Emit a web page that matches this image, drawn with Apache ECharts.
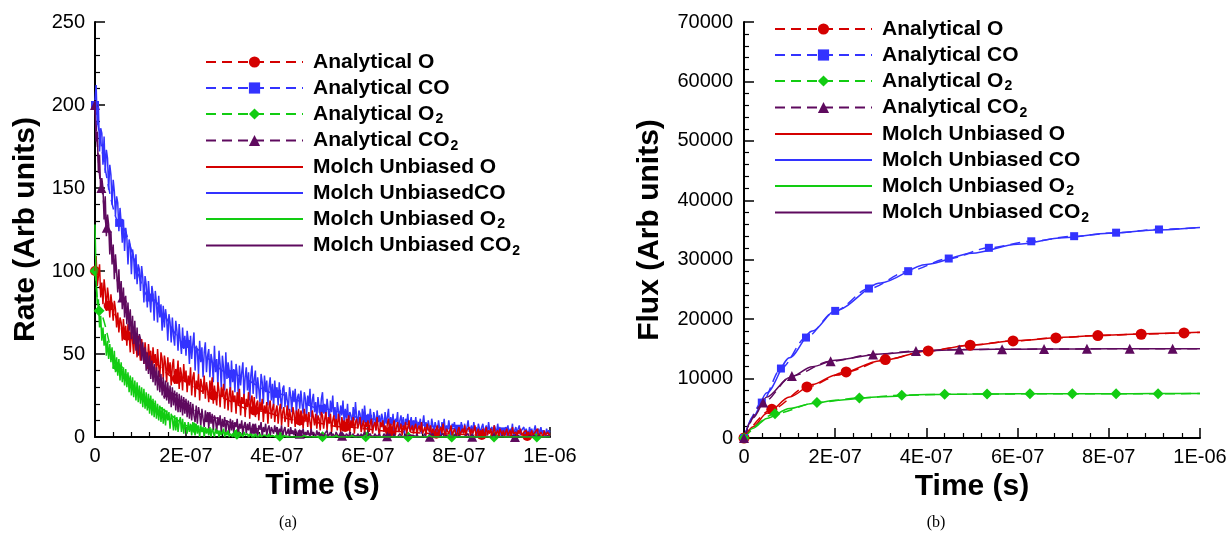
<!DOCTYPE html>
<html>
<head>
<meta charset="utf-8">
<script src="https://cdn.jsdelivr.net/npm/echarts@6/dist/echarts.min.js"></script>
<style>
  html, body { margin: 0; padding: 0; background: #fff; }
  .panel { position: absolute; top: 0; width: 615px; height: 535px; }
  #rateChart { left: 0; }
  #fluxChart { left: 615px; }
</style>
</head>
<body>
<div id="rateChart" class="panel"></div>
<div id="fluxChart" class="panel"></div>
<script>
// x axis is in microseconds, labels written as in the original
const timeTickLabels = ['0', '2E-07', '4E-07', '6E-07', '8E-07', '1E-06']
const rateTickLabels = ['0', '50', '100', '150', '200', '250']
const fluxTickLabels = ['0', '10000', '20000', '30000', '40000', '50000', '60000', '70000']

// ---- panel (a): rate, Monte Carlo samples every 0.0025 us (20 per row) ----
const rateStep = 0.0025
const rateCO = [
  203, 212, 188, 199, 172, 186, 183, 164, 181, 159, 173, 168, 149, 164, 158, 140, 155, 148, 133, 145,
  141, 124, 138, 129, 117, 131, 112, 126, 120, 104, 119, 115, 98, 113, 108, 95, 110, 92, 104, 101,
  88, 103, 96, 81, 97, 92, 78, 94, 84, 75, 91, 86, 70, 88, 81, 69, 85, 72, 80, 64,
  79, 66, 77, 71, 58, 74, 69, 57, 72, 61, 55, 70, 64, 52, 68, 58, 50, 66, 53, 61,
  49, 64, 58, 44, 61, 47, 56, 63, 40, 55, 52, 38, 58, 45, 54, 36, 51, 57, 39, 49,
  53, 36, 50, 46, 33, 55, 39, 47, 31, 52, 44, 30, 49, 42, 28, 51, 35, 45, 40, 27,
  46, 33, 41, 27, 44, 38, 25, 43, 31, 39, 45, 24, 36, 42, 28, 39, 22, 37, 43, 26,
  35, 40, 23, 36, 29, 21, 38, 33, 20, 37, 27, 34, 19, 30, 36, 22, 32, 18, 34, 25,
  30, 19, 33, 24, 17, 29, 31, 18, 27, 22, 16, 30, 25, 15, 28, 21, 29, 14, 24, 26,
  17, 28, 20, 14, 27, 23, 13, 25, 19, 29, 12, 22, 26, 15, 21, 11, 24, 18, 13, 23,
  27, 14, 20, 11, 23, 17, 9, 22, 15, 25, 12, 18, 8, 21, 16, 10, 19, 13, 22, 9,
  17, 11, 20, 8, 15, 13, 6, 18, 10, 21, 12, 7, 16, 14, 5, 17, 9, 19, 11, 6,
  14, 8, 17, 10, 5, 15, 12, 4, 16, 9, 13, 6, 14, 11, 3, 15, 8, 12, 17, 5,
  12, 7, 14, 4, 11, 9, 15, 3, 10, 13, 6, 12, 2, 11, 8, 14, 5, 9, 12, 4,
  10, 6, 12, 3, 9, 7, 11, 2, 8, 13, 5, 9, 4, 10, 6, 2, 11, 7, 3, 9,
  8, 3, 10, 5, 1, 9, 6, 11, 2, 7, 4, 10, 5, 1, 8, 6, 9, 2, 7, 4,
  7, 2, 9, 5, 3, 8, 1, 6, 10, 3, 5, 7, 2, 9, 4, 6, 1, 8, 5, 3,
  6, 8, 2, 5, 7, 1, 9, 4, 3, 6, 0, 7, 5, 2, 8, 3, 6, 1, 5, 4,
  2, 6, 4, 7, 1, 5, 3, 8, 0, 4, 6, 2, 5, 7, 1, 4, 3, 6, 2, 5,
  4, 1, 6, 3, 5, 0, 4, 7, 2, 3, 5, 1, 6, 2, 4, 3, 0, 5, 2, 4,
  3
]
const rateO = [
  100, 109, 91, 97, 104, 84, 93, 80, 95, 88, 76, 90, 84, 72, 86, 79, 70, 82, 77, 66,
  75, 63, 72, 69, 58, 71, 60, 67, 55, 68, 62, 51, 66, 58, 50, 63, 57, 48, 61, 52,
  46, 59, 53, 44, 57, 49, 41, 56, 47, 52, 40, 54, 45, 50, 38, 53, 43, 36, 51, 47,
  35, 49, 44, 33, 48, 38, 45, 31, 43, 47, 32, 41, 36, 46, 29, 42, 38, 28, 44, 33,
  40, 27, 37, 31, 42, 25, 36, 39, 24, 34, 29, 38, 22, 35, 31, 26, 37, 23, 33, 28,
  21, 34, 27, 36, 20, 31, 25, 19, 33, 28, 18, 30, 24, 32, 17, 27, 29, 16, 26, 30,
  15, 28, 21, 25, 14, 27, 19, 29, 13, 24, 20, 26, 12, 23, 18, 27, 11, 22, 25, 14,
  24, 12, 20, 22, 10, 21, 16, 23, 9, 19, 14, 21, 8, 18, 22, 11, 17, 20, 9, 16,
  19, 8, 16, 20, 7, 15, 18, 9, 13, 19, 6, 17, 12, 8, 18, 14, 6, 16, 11, 17,
  7, 16, 13, 5, 17, 10, 14, 6, 15, 9, 4, 16, 12, 7, 14, 5, 13, 11, 4, 15,
  13, 5, 11, 15, 4, 12, 8, 14, 3, 10, 13, 6, 11, 4, 14, 9, 3, 12, 7, 10,
  4, 11, 8, 13, 3, 10, 6, 12, 2, 9, 11, 5, 8, 12, 3, 7, 10, 2, 9, 6,
  10, 3, 8, 11, 2, 7, 9, 4, 12, 5, 1, 9, 6, 10, 3, 7, 2, 8, 11, 4,
  8, 2, 7, 10, 1, 6, 9, 3, 5, 8, 1, 7, 4, 9, 2, 6, 10, 3, 5, 7,
  2, 6, 8, 1, 5, 7, 3, 9, 2, 4, 6, 1, 8, 5, 3, 7, 0, 5, 6, 2,
  5, 7, 1, 4, 6, 2, 8, 3, 0, 5, 6, 2, 4, 7, 1, 3, 5, 6, 0, 4,
  6, 1, 3, 5, 2, 7, 0, 4, 3, 6, 1, 5, 2, 4, 7, 0, 3, 5, 1, 4,
  2, 5, 0, 3, 6, 1, 4, 2, 5, 0, 3, 7, 1, 2, 4, 0, 5, 3, 1, 4,
  0, 3, 5, 1, 2, 4, 0, 6, 2, 1, 3, 0, 4, 2, 5, 1, 0, 3, 2, 4,
  1, 3, 0, 2, 4, 1, 0, 3, 2, 5, 0, 1, 3, 2, 0, 4, 1, 2, 3, 1,
  2
]
const rateCO2 = [
  200, 178, 184, 159, 170, 147, 156, 150, 131, 145, 121, 134, 128, 110, 124, 104, 116, 95, 110, 100,
  87, 101, 83, 94, 77, 90, 72, 85, 68, 81, 64, 77, 59, 73, 56, 70, 52, 66, 49, 62,
  59, 46, 57, 44, 54, 40, 51, 38, 49, 35, 46, 33, 44, 31, 42, 28, 40, 27, 38, 25,
  36, 23, 34, 22, 33, 20, 31, 18, 30, 19, 28, 16, 27, 15, 26, 15, 25, 13, 24, 14,
  23, 12, 22, 11, 21, 10, 20, 13, 9, 19, 8, 18, 14, 7, 17, 11, 6, 16, 9, 15,
  5, 15, 8, 14, 4, 13, 10, 3, 12, 7, 13, 3, 11, 6, 12, 2, 10, 8, 2, 11,
  4, 10, 2, 9, 6, 11, 1, 8, 5, 10, 1, 7, 9, 2, 8, 4, 9, 1, 6, 8,
  2, 8, 4, 1, 7, 5, 9, 0, 6, 3, 8, 1, 5, 7, 0, 6, 4, 2, 7, 3,
  6, 1, 5, 3, 7, 0, 4, 6, 1, 3, 5, 0, 6, 2, 4, 1, 5, 3, 0, 4,
  1, 4, 2, 5, 0, 3, 1, 4, 2, 0, 5, 1, 3, 2, 0, 4, 1, 3, 0, 2,
  3, 0, 2, 1, 4, 0, 1, 3, 0, 2, 1, 0, 3, 2, 0, 1, 3, 0, 2, 1,
  0, 2, 1, 0, 3, 0, 1, 2, 0, 1, 0, 2, 1, 0, 2, 0, 1, 3, 0, 1,
  1, 0, 2, 0, 1, 0, 2, 1, 0, 0, 2, 0, 1, 0, 2, 1, 0, 1, 0, 2,
  0, 1, 0, 2, 0, 1, 0, 0, 2, 1, 0, 1, 0, 2, 0, 0, 1, 0, 1, 0,
  1, 0, 0, 2, 0, 1, 0, 1, 0, 0, 2, 0, 1, 0, 0, 1, 0, 2, 0, 1,
  0, 1, 0, 0, 1, 0, 2, 0, 0, 1, 0, 0, 1, 0, 1, 0, 0, 2, 0, 0,
  1, 0, 0, 1, 0, 0, 1, 0, 2, 0, 0, 1, 0, 0, 1, 0, 0, 0, 1, 0,
  0, 0, 1, 0, 1, 0, 0, 0, 1, 0, 0, 2, 0, 0, 0, 1, 0, 0, 1, 0,
  0, 1, 0, 0, 0, 1, 0, 0, 1, 0, 0, 0, 1, 0, 0, 1, 0, 0, 0, 1,
  0, 0, 1, 0, 0, 0, 1, 0, 0, 0, 1, 0, 0, 0, 0, 1, 0, 0, 1, 0,
  0
]
const rateO2 = [
  128, 95, 80, 83, 66, 73, 58, 66, 55, 62, 49, 58, 47, 56, 45, 54, 41, 52, 39, 48,
  37, 47, 34, 45, 33, 42, 31, 41, 30, 39, 27, 37, 25, 36, 24, 34, 22, 33, 21, 31,
  20, 30, 18, 29, 17, 27, 16, 26, 14, 25, 13, 23, 12, 22, 11, 20, 10, 19, 9, 18,
  8, 17, 7, 16, 10, 15, 5, 14, 11, 4, 13, 4, 12, 3, 9, 12, 3, 11, 2, 9,
  10, 2, 9, 3, 8, 1, 9, 4, 1, 8, 2, 7, 0, 7, 3, 6, 0, 6, 2, 5,
  1, 6, 0, 5, 3, 0, 5, 2, 4, 0, 4, 1, 3, 5, 0, 3, 1, 4, 0, 2,
  3, 0, 2, 4, 0, 1, 3, 0, 2, 1, 0, 3, 1, 0, 2, 0, 1, 2, 0, 1,
  0, 2, 0, 1, 0, 2, 0, 0, 1, 0, 1, 0, 0, 2, 0, 0, 1, 0, 0, 1,
  0, 0, 1, 0, 0, 0, 1, 0, 0, 0, 0, 1, 0, 0, 0, 0, 0, 1, 0, 0,
  0, 0, 0, 0, 1, 0, 0, 0, 0, 0, 0, 0, 0, 1, 0, 0, 0, 0, 0, 0,
  0, 1, 0, 0, 0, 0, 0, 0, 0, 0, 0, 0, 1, 0, 0, 0, 0, 0, 0, 0,
  0, 0, 0, 0, 0, 0, 1, 0, 0, 0, 0, 0, 0, 0, 0, 0, 0, 0, 1, 0,
  0, 0, 0, 0, 0, 0, 0, 0, 0, 0, 0, 1, 0, 0, 0, 0, 0, 0, 0, 0,
  0, 0, 0, 1, 0, 0, 0, 0, 0, 0, 0, 0, 0, 0, 0, 0, 0, 0, 0, 0,
  0, 0, 0, 0, 0, 0, 0, 0, 0, 0, 0, 0, 0, 0, 1, 0, 0, 0, 0, 0,
  0, 0, 0, 0, 0, 0, 0, 0, 0, 0, 0, 0, 0, 0, 0, 0, 0, 0, 0, 0,
  0, 0, 0, 0, 0, 0, 0, 1, 0, 0, 0, 0, 0, 0, 0, 0, 0, 0, 0, 0,
  0, 0, 0, 0, 0, 0, 0, 0, 0, 0, 0, 0, 0, 0, 0, 0, 0, 0, 0, 0,
  0, 0, 0, 0, 0, 0, 0, 0, 0, 0, 0, 0, 0, 0, 0, 0, 0, 0, 0, 0,
  0, 0, 0, 0, 0, 0, 0, 0, 0, 0, 0, 0, 0, 0, 0, 0, 0, 0, 0, 0,
  0
]

// analytical rate curves (marker positions), last point has no marker
const anaRateTimeO = [0, 0.03, 0.07, 0.12, 0.18, 0.26, 0.35, 0.45, 0.55, 0.65, 0.75, 0.85, 0.95, 1.0]
const anaRateO = [100, 79, 61, 46, 35, 25, 16, 10, 6, 3.5, 2, 1.2, 0.6, 0.5]
const anaRateTimeCO = [0, 0.053, 0.12, 0.2, 0.3, 0.4, 0.5, 0.6, 0.7, 0.8, 0.9, 1.0]
const anaRateCO = [200, 129, 84, 56, 38, 26, 17, 11, 7.5, 5, 3.4, 2.3]
const anaRateTimeO2 = [0, 0.009, 0.05, 0.12, 0.218, 0.312, 0.406, 0.5, 0.595, 0.688, 0.784, 0.877, 0.971, 1.0]
const anaRateO2 = [100, 76, 42, 20, 5.5, 1.6, 0.5, 0.2, 0.1, 0, 0, 0, 0, 0]
const anaRateTimeCO2 = [0, 0.014, 0.026, 0.06, 0.1, 0.16, 0.25, 0.35, 0.45, 0.543, 0.642, 0.736, 0.829, 0.923, 1.0]
const anaRateCO2 = [200, 150, 126, 84, 54, 27, 12, 5, 2, 0.8, 0.4, 0.2, 0.1, 0, 0]

// ---- panel (b): flux ----
const anaFluxTimeO = [0, 0.061, 0.138, 0.224, 0.31, 0.404, 0.496, 0.59, 0.684, 0.776, 0.871, 0.965, 1.0]
const anaFluxO = [0, 4830, 8590, 11110, 13200, 14650, 15610, 16330, 16840, 17240, 17460, 17680, 17750]
const anaFluxTimeCO = [0, 0.039, 0.081, 0.136, 0.2, 0.274, 0.36, 0.449, 0.537, 0.63, 0.724, 0.816, 0.91, 1.0]
const anaFluxCO = [0, 5960, 11690, 16900, 21390, 25150, 28070, 30200, 32000, 33100, 33960, 34550, 35090, 35420]
const anaFluxTimeO2 = [0, 0.068, 0.16, 0.253, 0.346, 0.44, 0.533, 0.627, 0.72, 0.816, 0.908, 1.0]
const anaFluxO2 = [0, 4100, 5960, 6740, 7190, 7360, 7400, 7430, 7440, 7450, 7460, 7470]
const anaFluxTimeCO2 = [0, 0.042, 0.105, 0.19, 0.283, 0.377, 0.472, 0.566, 0.658, 0.752, 0.846, 0.94, 1.0]
const anaFluxCO2 = [0, 5960, 10440, 12910, 14040, 14650, 14880, 14940, 14960, 15000, 15000, 15000, 15000]

const molchFluxTime = [0, 0.02, 0.05, 0.1, 0.15, 0.2, 0.3, 0.4, 0.5, 0.6, 0.7, 0.8, 0.9, 1.0]
const molchFluxO = [0, 1900, 4150, 6900, 9000, 10550, 13000, 14600, 15650, 16400, 16950, 17350, 17600, 17780]
const molchFluxCO = [0, 3600, 7600, 13500, 18000, 21400, 26100, 29200, 31100, 32600, 33700, 34450, 35000, 35420]
const molchFluxO2 = [0, 1650, 3300, 4950, 5800, 6350, 6950, 7300, 7400, 7430, 7450, 7460, 7470, 7480]
const molchFluxCO2 = [0, 3400, 6900, 10200, 12000, 13100, 14150, 14700, 14900, 14950, 14980, 15000, 15000, 15000]

const RED = '#d40000'
const BLUE = '#3333ff'
const GREEN = '#12cc12'
const PURPLE = '#5e0a5e'
const FONT = 'Liberation Sans, Arial, Helvetica, sans-serif'

const pairs = (ts, vs) => ts.map((t, i) => [t, vs[i]])
const sampled = vs => vs.map((v, i) => [i * rateStep, v])
// markers on every point except the closing one at the axis end
const marked = (ts, vs) => ts.map((t, i) =>
  i === ts.length - 1 ? { value: [t, vs[i]], symbol: 'none' } : [t, vs[i]])

const analytical = (name, color, symbol, size, data, z) => ({
  name, type: 'line', data, z,
  symbol, symbolSize: size, showAllSymbol: true,
  smooth: 0.3, smoothMonotone: 'x',
  itemStyle: { color },
  lineStyle: { color, width: 1.5, type: [10, 6] },
  emphasis: { disabled: true }
})
const molch = (name, color, data, width, smooth) => ({
  name, type: 'line', data, symbol: 'none', z: 2,
  smooth: smooth ? 0.3 : false, smoothMonotone: 'x',
  itemStyle: { color },
  lineStyle: { color, width },
  emphasis: { disabled: true }
})

// subscript "2" in legend names
const legendFormatter = name => name.endsWith('2') ? name.slice(0, -1) + '{s|2}' : name

const legendFor = (left, top, names) => ({
  orient: 'vertical', left, top,
  itemWidth: 97, itemHeight: 14, itemGap: 2,
  selectedMode: false,
  formatter: legendFormatter,
  textStyle: {
    fontFamily: FONT, fontSize: 21, fontWeight: 'bold', color: '#000', lineHeight: 24,
    padding: [0, 0, 0, 5],
    rich: { s: { fontFamily: FONT, fontSize: 14, fontWeight: 'bold', color: '#000', padding: [11, 0, 0, 1] } }
  },
  data: names.map((n, i) => i < 4 ? n : { name: n, itemStyle: { opacity: 0 } })
})

const axisCommon = {
  type: 'value',
  axisLine: { show: true, onZero: false, lineStyle: { color: '#000', width: 2 } },
  axisTick: { show: true, inside: true, length: 10, lineStyle: { color: '#000', width: 1.5 } },
  minorTick: { show: true, splitNumber: 5, length: 5, lineStyle: { color: '#000', width: 1.2 } },
  splitLine: { show: false },
  nameLocation: 'middle',
  nameTextStyle: { fontFamily: FONT, fontSize: 30, fontWeight: 'bold', color: '#000' }
}

const timeAxis = {
  ...axisCommon,
  min: 0, max: 1, interval: 0.2,
  name: 'Time (s)', nameGap: 34,
  axisLabel: {
    fontFamily: FONT, fontSize: 20, color: '#000', margin: 9,
    formatter: v => timeTickLabels[Math.round(v / 0.2)]
  }
}

const rateChart = echarts.init(document.getElementById('rateChart'))
rateChart.setOption({
  animation: false,
  backgroundColor: '#fff',
  title: {
    text: '(a)', left: 283, top: 510, textAlign: 'center',
    textStyle: { fontFamily: 'Liberation Serif, Times New Roman, serif', fontSize: 16, fontWeight: 'normal', color: '#000' }
  },
  grid: { left: 95, top: 22, width: 455, height: 415 },
  legend: legendFor(200, 45, [
    'Analytical O', 'Analytical CO', 'Analytical O2', 'Analytical CO2',
    'Molch Unbiased O', 'Molch UnbiasedCO', 'Molch Unbiased O2', 'Molch Unbiased CO2'
  ]),
  xAxis: timeAxis,
  yAxis: {
    ...axisCommon,
    min: 0, max: 250, interval: 50,
    name: 'Rate (Arb units)', nameGap: 54,
    axisLabel: {
      fontFamily: FONT, fontSize: 20, color: '#000', margin: 10,
      formatter: v => rateTickLabels[Math.round(v / 50)]
    }
  },
  series: [
    analytical('Analytical O', RED, 'circle', 10, marked(anaRateTimeO, anaRateO), 1),
    analytical('Analytical CO', BLUE, 'rect', 8, marked(anaRateTimeCO, anaRateCO), 1),
    analytical('Analytical O2', GREEN, 'diamond', 11, marked(anaRateTimeO2, anaRateO2), 1),
    analytical('Analytical CO2', PURPLE, 'triangle', 10, marked(anaRateTimeCO2, anaRateCO2), 1),
    molch('Molch UnbiasedCO', BLUE, sampled(rateCO), 1.5, false),
    molch('Molch Unbiased O', RED, sampled(rateO), 1.5, false),
    molch('Molch Unbiased CO2', PURPLE, sampled(rateCO2), 1.5, false),
    molch('Molch Unbiased O2', GREEN, sampled(rateO2), 1.5, false)
  ]
})

const fluxChart = echarts.init(document.getElementById('fluxChart'))
fluxChart.setOption({
  animation: false,
  backgroundColor: '#fff',
  title: {
    text: '(b)', left: 316, top: 510, textAlign: 'center',
    textStyle: { fontFamily: 'Liberation Serif, Times New Roman, serif', fontSize: 16, fontWeight: 'normal', color: '#000' }
  },
  grid: { left: 129, top: 22, width: 456, height: 416 },
  legend: legendFor(154, 12, [
    'Analytical O', 'Analytical CO', 'Analytical O2', 'Analytical CO2',
    'Molch Unbiased O', 'Molch Unbiased CO', 'Molch Unbiased O2', 'Molch Unbiased CO2'
  ]),
  xAxis: timeAxis,
  yAxis: {
    ...axisCommon,
    min: 0, max: 70000, interval: 10000,
    name: 'Flux (Arb units)', nameGap: 79,
    axisLabel: {
      fontFamily: FONT, fontSize: 20, color: '#000', margin: 11,
      formatter: v => fluxTickLabels[Math.round(v / 10000)]
    }
  },
  series: [
    molch('Molch Unbiased O', RED, pairs(molchFluxTime, molchFluxO), 1.5, true),
    molch('Molch Unbiased CO', BLUE, pairs(molchFluxTime, molchFluxCO), 1.5, true),
    molch('Molch Unbiased O2', GREEN, pairs(molchFluxTime, molchFluxO2), 1.5, true),
    molch('Molch Unbiased CO2', PURPLE, pairs(molchFluxTime, molchFluxCO2), 1.5, true),
    analytical('Analytical O', RED, 'circle', 11, marked(anaFluxTimeO, anaFluxO), 3),
    analytical('Analytical CO', BLUE, 'rect', 8, marked(anaFluxTimeCO, anaFluxCO), 3),
    analytical('Analytical O2', GREEN, 'diamond', 11, marked(anaFluxTimeO2, anaFluxO2), 3),
    analytical('Analytical CO2', PURPLE, 'triangle', 10, marked(anaFluxTimeCO2, anaFluxCO2), 3)
  ]
})

window.addEventListener('resize', () => { rateChart.resize(); fluxChart.resize() })
</script>
</body>
</html>
